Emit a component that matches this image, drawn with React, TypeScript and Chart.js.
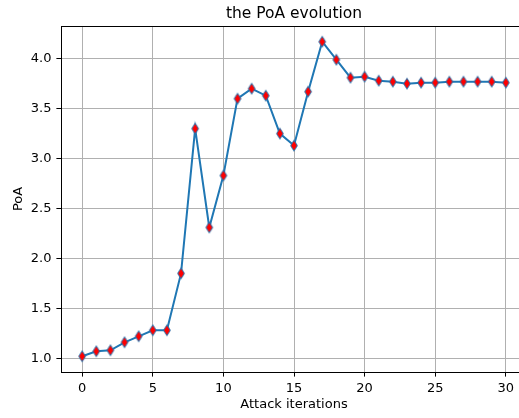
import React, { useEffect, useRef } from 'react';
import { Chart, registerables } from 'chart.js';

Chart.register(...registerables);

const iterations = [0, 1, 2, 3, 4, 5, 6, 7, 8, 9, 10, 11, 12, 13, 14, 15, 16, 17, 18, 19, 20, 21, 22, 23, 24, 25, 26, 27, 28, 29, 30];
const poaValues = [1.02, 1.07, 1.08, 1.16, 1.22, 1.28, 1.28, 1.85, 3.30, 2.31, 2.83, 3.60, 3.70, 3.63, 3.25, 3.13, 3.67, 4.17, 3.99, 3.81, 3.82, 3.78, 3.77, 3.75, 3.76, 3.76, 3.77, 3.77, 3.77, 3.77, 3.76];
const xTicks = [0, 5, 10, 15, 20, 25, 30];
const yTicks = [1.0, 1.5, 2.0, 2.5, 3.0, 3.5, 4.0];
const titleText = 'the PoA evolution';
const xTitle = 'Attack iterations';
const yTitle = 'PoA';

const FONT = "'DejaVu Sans', sans-serif";
const BLUE = '#1f77b4';

function makeDiamond(): HTMLCanvasElement {
  const c = document.createElement('canvas');
  c.width = 12;
  c.height = 16;
  const ctx = c.getContext('2d')!;
  const cx = 6, cy = 8, hw = 3.4, hh = 5.4;
  ctx.beginPath();
  ctx.moveTo(cx, cy - hh);
  ctx.lineTo(cx + hw, cy);
  ctx.lineTo(cx, cy + hh);
  ctx.lineTo(cx - hw, cy);
  ctx.closePath();
  ctx.fillStyle = '#ff0000';
  ctx.fill();
  ctx.lineWidth = 1;
  ctx.strokeStyle = BLUE;
  ctx.stroke();
  return c;
}

const framePlugin = {
  id: 'frameAndTitle',
  afterDatasetsDraw(chart: any) {
    const { ctx, chartArea } = chart;
    ctx.save();
    ctx.strokeStyle = '#000';
    ctx.lineWidth = 1;
    ctx.beginPath();
    ctx.moveTo(chartArea.left, Math.round(chartArea.top) + 0.5);
    ctx.lineTo(chartArea.right, Math.round(chartArea.top) + 0.5);
    ctx.moveTo(Math.round(chartArea.right) + 0.5, chartArea.top);
    ctx.lineTo(Math.round(chartArea.right) + 0.5, chartArea.bottom);
    ctx.stroke();
    ctx.restore();
  },
  afterDraw(chart: any) {
    const { ctx, chartArea } = chart;
    ctx.save();
    ctx.font = `15.5px ${FONT}`;
    ctx.fillStyle = '#000';
    ctx.textAlign = 'center';
    ctx.textBaseline = 'alphabetic';
    ctx.fillText(titleText, (chartArea.left + chartArea.right) / 2, 17.5);
    ctx.restore();
  },
};

export default function App() {
  const ref = useRef<HTMLCanvasElement>(null);

  useEffect(() => {
    if (!ref.current) return;
    Chart.defaults.font.family = FONT;
    Chart.defaults.color = '#000';
    const diamond = makeDiamond();
    const chart = new Chart(ref.current, {
      type: 'line',
      data: {
        datasets: [
          {
            data: iterations.map((x, i) => ({ x, y: poaValues[i] })),
            borderColor: BLUE,
            borderWidth: 2,
            tension: 0,
            fill: false,
            pointStyle: diamond as any,
            pointRadius: 6,
            pointHoverRadius: 6,
          },
        ],
      },
      options: {
        animation: false,
        responsive: false,
        events: [],
        layout: { padding: { top: 26, left: 0, right: 61, bottom: 0 } },
        plugins: {
          legend: { display: false },
          tooltip: { enabled: false },
          title: { display: false },
        },
        scales: {
          x: {
            type: 'linear',
            min: -1.5,
            max: 31.5,
            afterBuildTicks: (scale: any) => {
              scale.ticks = xTicks.map((v) => ({ value: v }));
            },
            afterFit: (scale: any) => {
              scale.height = 46;
            },
            ticks: {
              font: { size: 13 },
              padding: 4,
              maxRotation: 0,
              autoSkip: false,
              callback: (v: any) => String(v),
            },
            grid: {
              color: '#b0b0b0',
              lineWidth: 1,
              tickLength: 4.6,
              tickColor: '#000',
              tickWidth: 1,
            },
            border: { display: true, color: '#000', width: 1 },
            title: {
              display: true,
              text: xTitle,
              font: { size: 13 },
              padding: { top: 0, bottom: 5.2 },
            },
          },
          y: {
            type: 'linear',
            min: 0.8625,
            max: 4.3275,
            afterBuildTicks: (scale: any) => {
              scale.ticks = yTicks.map((v) => ({ value: v }));
            },
            afterFit: (scale: any) => {
              scale.width = 61;
            },
            ticks: {
              font: { size: 13 },
              padding: 5,
              autoSkip: false,
              callback: (v: any) => Number(v).toFixed(1),
            },
            grid: {
              color: '#b0b0b0',
              lineWidth: 1,
              tickLength: 4.6,
              tickColor: '#000',
              tickWidth: 1,
            },
            border: { display: true, color: '#000', width: 1 },
            title: {
              display: true,
              text: yTitle,
              font: { size: 13 },
              padding: { top: 11.2, bottom: 0 },
            },
          },
        },
      },
      plugins: [framePlugin],
    });
    return () => chart.destroy();
  }, []);

  return (
    <div
      style={{
        position: 'fixed',
        left: 0,
        top: 0,
        width: 519,
        height: 418,
        overflow: 'hidden',
        background: '#fff',
      }}
    >
      <canvas ref={ref} width={588} height={418} style={{ display: 'block', width: 588, height: 418 }} />
    </div>
  );
}
